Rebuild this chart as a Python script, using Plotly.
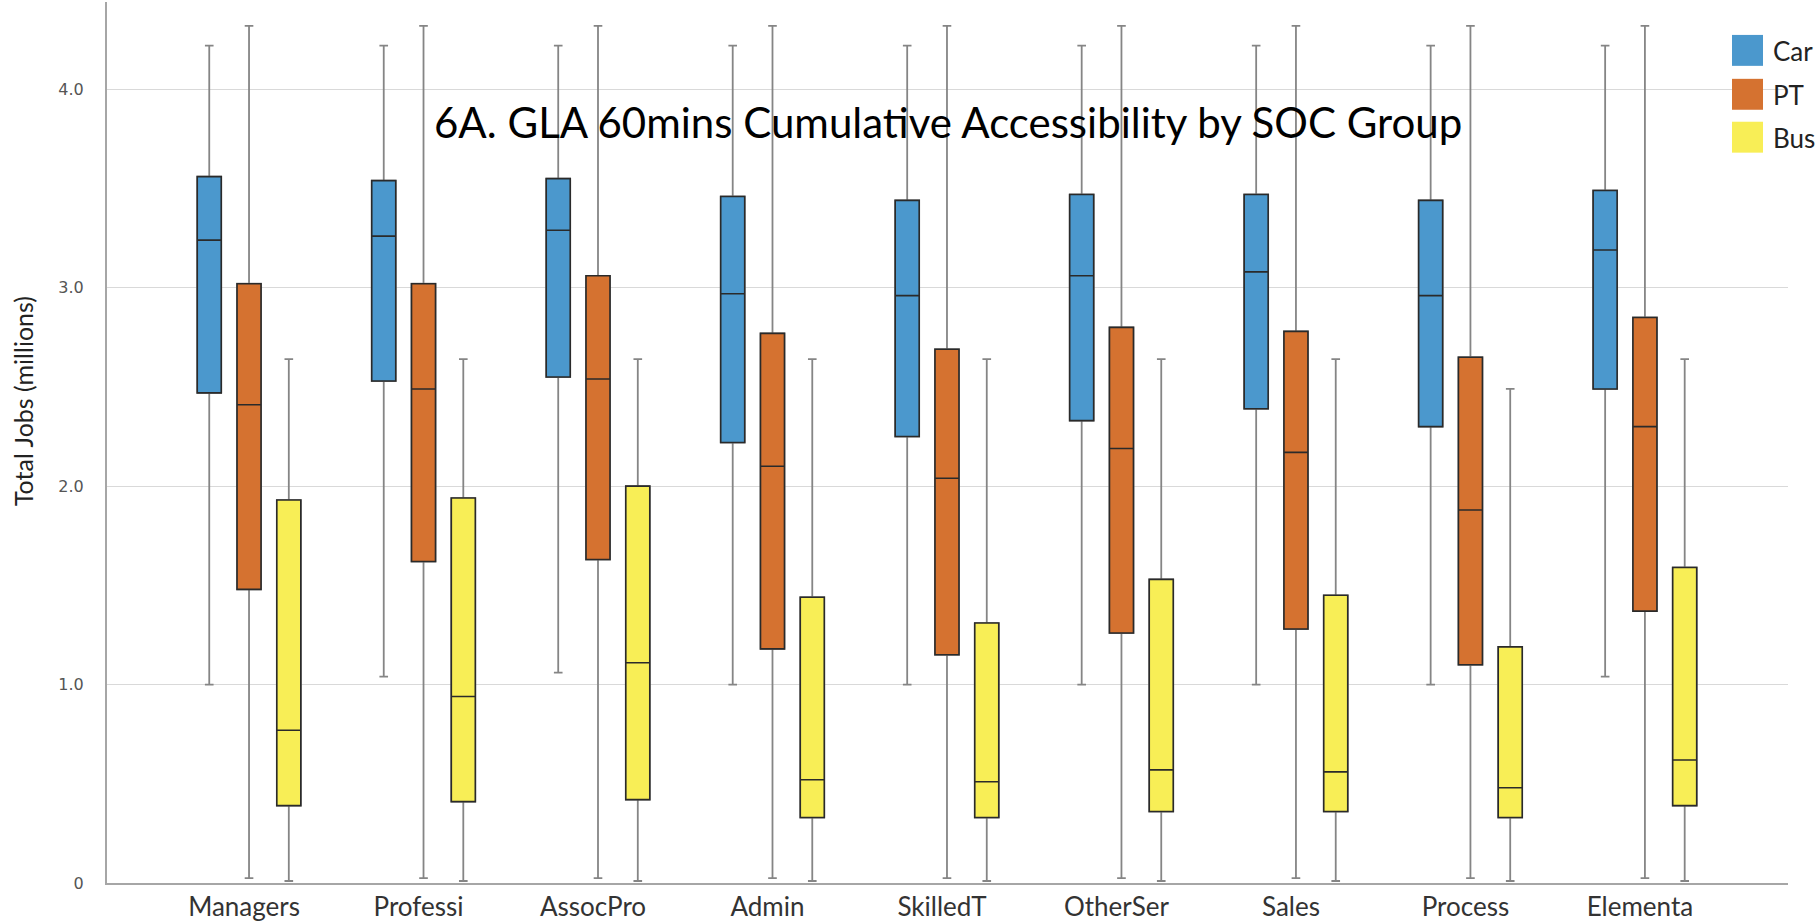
import plotly.graph_objects as go

# ---------------- data (millions of jobs) ----------------
categories = ["Managers", "Professi", "AssocPro", "Admin", "SkilledT",
              "OtherSer", "Sales", "Process", "Elementa"]

car_low = [1.00, 1.04, 1.06, 1.00, 1.00, 1.00, 1.00, 1.00, 1.04]
car_q1 = [2.47, 2.53, 2.55, 2.22, 2.25, 2.33, 2.39, 2.30, 2.49]
car_med = [3.24, 3.26, 3.29, 2.97, 2.96, 3.06, 3.08, 2.96, 3.19]
car_q3 = [3.56, 3.54, 3.55, 3.46, 3.44, 3.47, 3.47, 3.44, 3.49]
car_high = [4.22, 4.22, 4.22, 4.22, 4.22, 4.22, 4.22, 4.22, 4.22]

pt_low = [0.025, 0.025, 0.025, 0.025, 0.025, 0.025, 0.025, 0.025, 0.025]
pt_q1 = [1.48, 1.62, 1.63, 1.18, 1.15, 1.26, 1.28, 1.10, 1.37]
pt_med = [2.41, 2.49, 2.54, 2.10, 2.04, 2.19, 2.17, 1.88, 2.30]
pt_q3 = [3.02, 3.02, 3.06, 2.77, 2.69, 2.80, 2.78, 2.65, 2.85]
pt_high = [4.32, 4.32, 4.32, 4.32, 4.32, 4.32, 4.32, 4.32, 4.32]

bus_low = [0.01, 0.01, 0.01, 0.01, 0.01, 0.01, 0.01, 0.01, 0.01]
bus_q1 = [0.39, 0.41, 0.42, 0.33, 0.33, 0.36, 0.36, 0.33, 0.39]
bus_med = [0.77, 0.94, 1.11, 0.52, 0.51, 0.57, 0.56, 0.48, 0.62]
bus_q3 = [1.93, 1.94, 2.00, 1.44, 1.31, 1.53, 1.45, 1.19, 1.59]
bus_high = [2.64, 2.64, 2.64, 2.64, 2.64, 2.64, 2.64, 2.49, 2.64]

series_names = ["Car", "PT", "Bus"]
series_colors = ["#4B98CD", "#D57230", "#F8EE56"]

y_tickvals = [0, 1, 2, 3, 4]
y_ticktext = ["0", "1.0", "2.0", "3.0", "4.0"]

title_text = "6A. GLA 60mins Cumulative Accessibility by SOC Group"
y_title = "Total Jobs (millions)"

# ---------------- layout geometry (pixels) ----------------
W, H = 1819, 924
PL, PR, PT_, PB = 107, 1788, 2, 885   # plot area edges


def fx(px):
    return (px - PL) / (PR - PL)


def fy(py):
    return (PB - py) / (PB - PT_)


stats = [
    (car_low, car_q1, car_med, car_q3, car_high),
    (pt_low, pt_q1, pt_med, pt_q3, pt_high),
    (bus_low, bus_q1, bus_med, bus_q3, bus_high),
]

fig = go.Figure()

# whiskers (grey lines)
for name, color, (lo, q1, med, q3, hi) in zip(series_names, series_colors, stats):
    fig.add_trace(go.Box(
        x=categories, q1=q1, median=med, q3=q3, lowerfence=lo, upperfence=hi,
        name=name, offsetgroup=name, fillcolor=color,
        line=dict(color="#858585", width=1.8), whiskerwidth=0.36,
        showlegend=False, hoverinfo="skip"))

# boxes (dark outline, median)
for name, color, (lo, q1, med, q3, hi) in zip(series_names, series_colors, stats):
    fig.add_trace(go.Box(
        x=categories, q1=q1, median=med, q3=q3, lowerfence=q1, upperfence=q3,
        name=name, offsetgroup=name, fillcolor=color,
        line=dict(color="#2a2a2a", width=1.6), whiskerwidth=0,
        showlegend=False))

fig.update_layout(
    width=W, height=H,
    margin=dict(l=PL, r=W - PR, t=PT_, b=H - PB, pad=0),
    paper_bgcolor="white", plot_bgcolor="white",
    boxmode="group", boxgap=0.316, boxgroupgap=0.397,
    showlegend=False,
    font=dict(family="Lato", color="#222"),
)

fig.update_xaxes(
    type="category", range=[-0.814, 8.82],
    showline=True, linecolor="#a6a6a6", linewidth=2,
    showgrid=False, zeroline=False, ticks="", ticklabelshift=-5,
    tickfont=dict(family="Lato", size=26, color="#333"),
)
fig.update_yaxes(
    range=[0, 4.44], tickvals=y_tickvals, ticktext=y_ticktext,
    showline=True, linecolor="#a6a6a6", linewidth=2,
    showgrid=True, gridcolor="#d9d9d9", gridwidth=1, zeroline=False,
    ticks="", ticklabelstandoff=18,
    tickfont=dict(family="DejaVu Sans", size=16, color="#555"),
)

annotations = [
    dict(text=title_text, xref="paper", yref="paper", x=0.5, y=fy(122),
         xanchor="center", yanchor="middle", showarrow=False,
         font=dict(family="Lato", size=42, color="#000")),
    dict(text=y_title, xref="paper", yref="paper", x=fx(23), y=fy(402),
         xanchor="center", yanchor="middle", showarrow=False, textangle=-90,
         font=dict(family="Lato", size=25, color="#222")),
]

shapes = []
sw_top = [35, 79, 122]
for name, color, top in zip(series_names, series_colors, sw_top):
    shapes.append(dict(type="rect", xref="paper", yref="paper",
                       x0=fx(1732), x1=fx(1763), y0=fy(top + 31), y1=fy(top),
                       fillcolor=color, line=dict(width=0), layer="above"))
    annotations.append(dict(text=name, xref="paper", yref="paper",
                            x=fx(1771), y=fy(top + 16), xanchor="left",
                            yanchor="middle", showarrow=False,
                            font=dict(family="Lato", size=26, color="#222")))

fig.update_layout(annotations=annotations, shapes=shapes)

fig.write_html("out.html")
